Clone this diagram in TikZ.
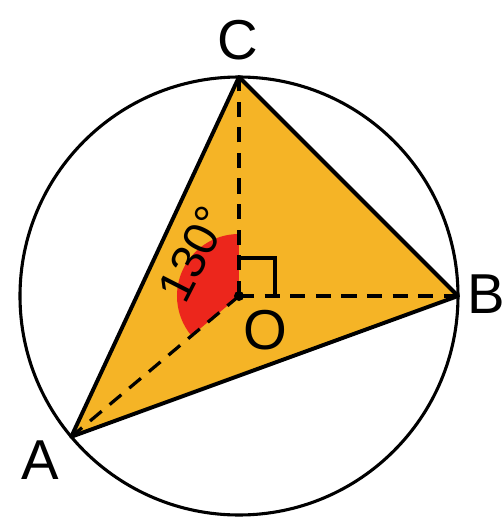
\documentclass[tikz,border=0pt]{standalone}
\usepackage{fontspec}
\setmainfont{Liberation Sans}
\usetikzlibrary{positioning,calc}
\definecolor{triorange}{RGB}{245,180,38}
\definecolor{angred}{RGB}{236,38,28}

\begin{document}
\begin{tikzpicture}[
  x=0.025cm, y=0.025cm,
  font=\fontsize{40}{40}\selectfont,
  edge/.style={line width=2.8pt, line join=round},
  dline/.style={line width=2.3pt, dash pattern=on 0.38cm off 0.26cm},
  lbl/.style={inner sep=0pt}
]
\useasboundingbox (-239,-226) rectangle (265,296);
\coordinate (O) at (0,0);
\coordinate (C) at (90:219);
\coordinate (B) at (0:219);
\coordinate (A) at (220:219);
\fill[triorange] (A) -- (B) -- (C) -- cycle;
\fill[angred] (O) -- (90:62) arc[start angle=90, end angle=220, radius=62] -- cycle;
\draw[dline] (O) -- (C);
\draw[dline] (O) -- (B);
\draw[dline] (O) -- (A);
\draw[line width=2.2pt] (0,38) -- (36,38) -- (36,0);
\fill (O) circle (5);
\draw[edge] (A) -- (B) -- (C) -- cycle;
\draw[line width=2.2pt] (O) circle (219);
\node[lbl] (Clbl) at (-1,256) {C};
\node[lbl] (Blbl) at (247,2) {B};
\node[lbl] (Albl) at (-199,-164) {A};
\node[lbl] (Olbl) at (26,-34) {O};
\node[lbl, rotate=63, font=\fontsize{34}{34}\selectfont] (ang) at (-46,42) {130°};
\end{tikzpicture}
\end{document}
